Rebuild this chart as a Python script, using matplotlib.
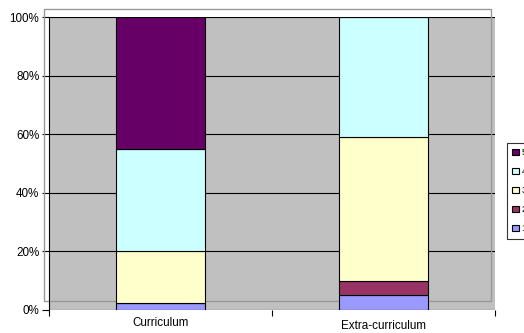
import matplotlib.pyplot as plt
import matplotlib.transforms as mtransforms
from matplotlib.patches import Rectangle
from matplotlib.ticker import PercentFormatter

plt.rcParams['font.family'] = ['Liberation Sans', 'DejaVu Sans']

categories = ["Curriculum", "Extra-curriculum"]
levels = ["1", "2", "3", "4", "5"]
shares = {
    "1": [2.5, 5],
    "2": [0, 5],
    "3": [17.5, 49],
    "4": [35, 41],
    "5": [45, 0],
}
colors = {"1": "#9999FF", "2": "#993366", "3": "#FFFFCC", "4": "#CCFFFF", "5": "#660066"}

fig = plt.figure(figsize=(5.24, 3.33), dpi=100)
ax = fig.add_axes([49 / 524, 1 - 310 / 333, 446 / 524, 293 / 333])
ax.set_facecolor("#C0C0C0")

x = list(range(len(categories)))
bottom = [0] * len(categories)
handles = []
for lv in levels:
    h = ax.bar(x, shares[lv], 0.4, bottom=bottom, color=colors[lv],
               edgecolor="black", linewidth=0.8, zorder=3, label=lv)
    handles.append(h)
    bottom = [b + v for b, v in zip(bottom, shares[lv])]

ax.set_xlim(-0.5, 1.5)
ax.set_ylim(0, 100)
ax.set_yticks([0, 20, 40, 60, 80, 100])
ax.yaxis.set_major_formatter(PercentFormatter(decimals=0))
ax.grid(axis="y", color="black", linewidth=0.8, zorder=1)

# category boundaries carry the tick marks, labels sit at the centres
ax.set_xticks([-0.5, 0.5, 1.5])
ax.set_xticklabels([])
ax.set_xticks(x, minor=True)
ax.set_xticklabels(categories, minor=True)
ax.tick_params(axis="x", which="minor", length=0, pad=5)
ax.tick_params(axis="x", which="major", length=4, width=0.8, direction="out")
ax.tick_params(axis="y", length=5, width=0.8, direction="out", pad=2)
ax.tick_params(which="both", labelsize=8.4)
lbl = ax.get_xticklabels(minor=True)[1]
lbl.set_transform(lbl.get_transform() + mtransforms.ScaledTranslation(0, -3 / 100, fig.dpi_scale_trans))

for side in ["top", "right", "bottom"]:
    ax.spines[side].set_visible(False)
ax.spines["left"].set_linewidth(0.8)

# back wall outline, offset up and left
wall = Rectangle((44 / 524, 1 - 301 / 333), 447 / 524, 292 / 333,
                 fill=False, edgecolor="#999999", linewidth=1, zorder=2)
ax.add_artist(wall)
wall.set_transform(fig.transFigure)
wall.set_clip_on(False)

leg = fig.legend(handles[::-1], levels[::-1], loc="upper left",
                 bbox_to_anchor=(507 / 524, 1 - 143 / 333), fontsize=6.5,
                 frameon=True, fancybox=False, edgecolor="black",
                 handlelength=0.7, handleheight=0.7, handletextpad=0.3,
                 labelspacing=1.1, borderpad=0.6, borderaxespad=0)
leg.get_frame().set_linewidth(0.8)

fig.savefig("out.png", dpi=100)
